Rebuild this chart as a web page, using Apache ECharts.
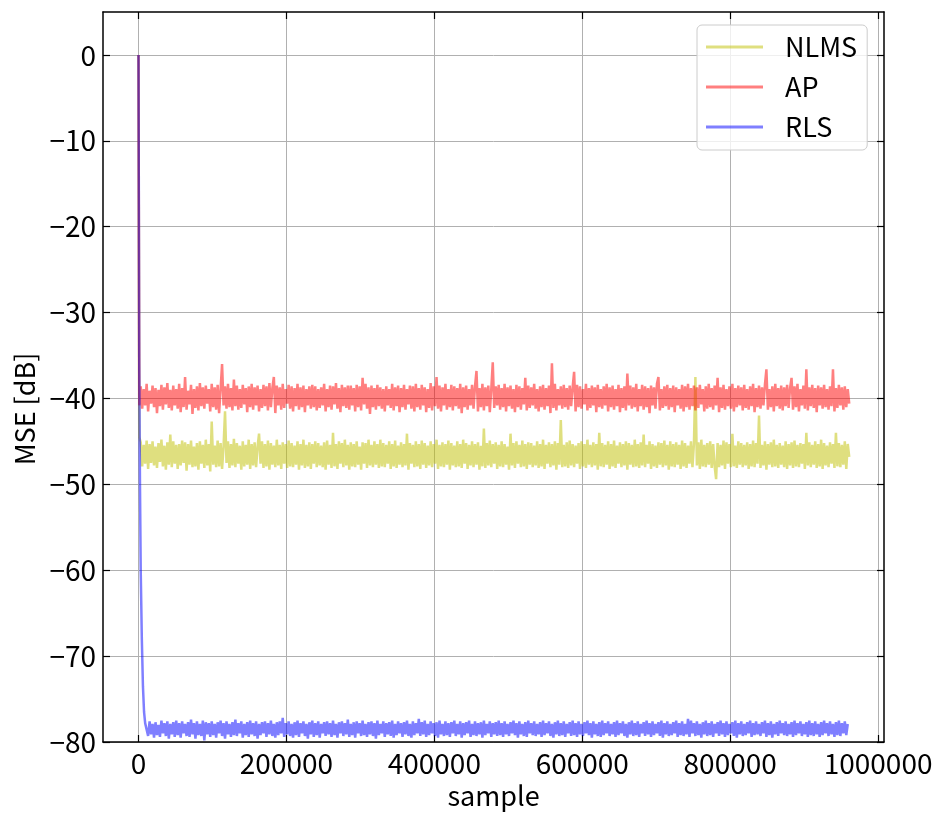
<!DOCTYPE html>
<html>
<head>
<meta charset="utf-8">
<script src="https://cdn.jsdelivr.net/npm/echarts@6/dist/echarts.min.js"></script>
<style>html,body{margin:0;padding:0;background:#fff}#c{width:944px;height:814px}</style>
</head>
<body>
<div id="c"></div>
<script>
// ---- data ----
const seriesNames = ['NLMS', 'AP', 'RLS'];
const xTicks = [0, 200000, 400000, 600000, 800000, 1000000];
const yTicks = [-80, -70, -60, -50, -40, -30, -20, -10, 0];
const STEP = 2000;

// initial transients [sample, dB]
const nlmsHead = [[0, 0], [1000, -44.5]];
const apHead = [[0, 0], [1000, -40.8]];
const rlsHead = [[0, 0], [1000, -36], [2000, -50], [3000, -60], [4500, -68], [6000, -73.5], [7500, -76.5], [9000, -77.8]];

// steady-state values, one every STEP samples
const nlmsStart = 3000;
const nlmsTail = [
-45.1,-47.9,-45.4,-47.6,-44.9,-48.2,-45.3,-47.5,-45.0,-47.8,-45.6,-48.1,-45.2,-47.4,-44.8,-47.9,-45.5,-48.3,-45.1,-47.7,-44.2,-48.0,-45.0,-47.6,
-45.4,-48.2,-45.3,-47.8,-44.9,-47.5,-45.1,-48.4,-45.3,-47.7,-44.9,-48.0,-45.6,-47.9,-45.2,-48.3,-45.0,-47.6,-45.4,-48.1,-44.8,-47.8,-45.3,-48.5,
-42.7,-47.7,-45.5,-48.0,-44.9,-47.9,-45.2,-48.2,-45.6,-41.5,-47.5,-45.0,-48.1,-45.3,-47.8,-44.7,-48.0,-45.2,-47.6,-45.5,-48.3,-45.0,-47.9,-45.4,
-47.7,-44.8,-48.2,-45.3,-47.8,-45.1,-48.0,-45.6,-44.1,-47.6,-45.0,-48.1,-45.3,-47.9,-44.9,-48.3,-45.2,-47.7,-45.5,-48.0,-44.8,-47.8,-45.4,-48.2,
-45.1,-47.6,-45.3,-48.1,-44.9,-47.9,-45.2,-48.0,-45.5,-47.7,-45.0,-48.3,-45.3,-47.8,-44.8,-48.1,-45.4,-47.9,-45.1,-48.2,-45.3,-47.6,-45.0,-48.0,
-45.2,-47.8,-45.5,-48.0,-45.1,-48.3,-44.9,-47.7,-45.4,-48.1,-44.0,-47.9,-45.3,-48.2,-45.0,-47.6,-45.2,-48.0,-44.8,-47.8,-45.4,-48.3,-45.1,-47.9,
-45.3,-48.0,-45.0,-47.7,-45.6,-48.3,-45.1,-47.6,-45.2,-48.1,-44.8,-47.8,-45.4,-48.0,-45.0,-47.7,-45.3,-48.1,-44.8,-47.9,-45.2,-48.0,-45.4,-47.6,
-45.0,-48.2,-45.3,-47.9,-44.9,-48.1,-45.5,-47.7,-45.1,-48.0,-45.3,-47.8,-44.1,-48.3,-45.2,-47.6,-45.4,-48.0,-45.0,-47.9,-45.3,-48.2,-44.9,-47.7,
-45.2,-48.1,-45.5,-47.8,-45.0,-48.0,-45.3,-47.6,-44.8,-48.2,-45.4,-47.9,-45.1,-48.0,-45.3,-47.7,-44.9,-48.3,-45.2,-47.8,-45.5,-48.0,-45.0,-47.9,
-45.3,-48.1,-44.8,-47.6,-45.2,-48.2,-45.4,-47.8,-45.0,-48.0,-45.3,-47.7,-45.1,-48.3,-45.5,-47.9,-43.5,-48.1,-45.2,-47.8,-44.9,-48.0,-45.3,-47.6,
-45.1,-48.2,-45.4,-47.9,-45.0,-48.0,-45.3,-47.7,-45.6,-48.3,-44.1,-47.8,-45.2,-48.1,-45.0,-47.6,-45.4,-48.0,-44.9,-47.9,-45.3,-48.2,-45.1,-47.7,
-45.2,-48.0,-45.5,-47.8,-45.0,-48.1,-45.3,-47.9,-44.8,-48.2,-45.4,-47.6,-45.1,-48.0,-45.3,-47.8,-45.0,-48.3,-45.2,-47.7,-42.5,-48.0,-45.4,-47.9,
-45.1,-48.1,-44.9,-47.8,-45.3,-48.0,-45.5,-47.6,-45.2,-48.2,-45.0,-47.9,-45.3,-48.1,-44.8,-47.7,-45.4,-48.0,-45.1,-47.8,-45.3,-48.3,-44.0,-47.9,
-45.2,-48.0,-45.4,-47.7,-45.0,-48.2,-45.3,-47.9,-44.9,-48.1,-45.5,-47.6,-45.1,-48.0,-45.3,-47.8,-45.0,-48.3,-45.2,-47.7,-45.4,-48.0,-44.8,-47.9,
-45.3,-48.1,-45.1,-47.8,-44.2,-48.0,-45.4,-47.6,-45.0,-48.2,-45.3,-47.9,-45.5,-48.1,-45.1,-47.7,-45.2,-48.0,-44.9,-47.8,-45.4,-48.3,-45.0,-47.9,
-45.3,-48.0,-45.1,-47.7,-45.4,-48.2,-44.9,-47.9,-45.2,-48.1,-45.5,-47.6,-45.0,-48.0,-45.3,-37.5,-47.8,-45.1,-48.2,-44.8,-47.9,-45.4,-48.0,-45.2,
-47.7,-45.0,-48.1,-45.3,-47.9,-49.4,-45.2,-48.0,-45.4,-47.8,-44.9,-48.2,-45.1,-47.6,-45.3,-48.0,-44.1,-47.9,-45.5,-48.1,-45.0,-47.7,-45.2,-48.0,
-45.4,-47.8,-45.1,-48.2,-45.3,-47.9,-44.9,-48.0,-45.2,-47.6,-42.0,-48.1,-45.4,-47.8,-45.0,-48.3,-45.3,-47.7,-45.1,-48.0,-44.8,-47.9,-45.4,-48.1,
-45.2,-47.7,-45.5,-48.0,-45.0,-48.2,-45.3,-47.8,-45.1,-48.1,-44.9,-47.9,-45.4,-48.0,-45.2,-47.6,-45.3,-48.2,-44.0,-47.8,-45.1,-48.0,-45.4,-47.7,
-45.0,-48.1,-45.3,-47.9,-44.8,-48.2,-45.2,-47.8,-45.5,-48.0,-45.1,-47.6,-45.3,-48.1,-44.0,-47.9,-45.2,-48.0,-45.4,-47.7,-45.0,-48.2,-45.3,-46.8
];
const apStart = 3000;
const apTail = [
-38.6,-41.2,-38.9,-40.8,-38.3,-41.5,-39.1,-40.6,-38.5,-41.0,-38.8,-41.7,-39.0,-40.9,-38.4,-41.3,-38.7,-40.7,-38.2,-41.1,-39.0,-41.4,-38.5,-40.8,
-38.9,-41.2,-38.3,-41.6,-38.8,-41.0,-37.5,-41.3,-39.1,-40.7,-38.4,-41.8,-38.9,-41.1,-38.6,-41.4,-38.2,-40.9,-38.7,-41.2,-38.5,-40.6,-38.9,-41.5,
-38.3,-41.0,-38.7,-41.3,-38.4,-41.7,-38.9,-36.0,-40.8,-38.6,-41.2,-38.3,-41.0,-38.8,-41.4,-37.8,-40.9,-38.5,-41.3,-38.9,-41.1,-38.4,-40.7,-38.8,
-41.6,-38.6,-41.0,-38.3,-41.3,-38.7,-40.8,-38.5,-41.5,-38.9,-41.1,-38.4,-40.9,-38.6,-41.4,-38.2,-41.0,-38.8,-37.5,-41.7,-38.5,-40.8,-38.7,-41.3,
-38.3,-41.1,-38.9,-40.6,-38.4,-41.2,-38.6,-41.5,-38.8,-40.9,-38.3,-41.3,-38.7,-41.0,-38.5,-41.6,-38.9,-40.8,-38.6,-41.2,-38.4,-41.0,-38.6,-41.4,
-38.9,-41.1,-38.7,-40.8,-38.3,-41.5,-38.9,-41.0,-38.5,-41.3,-38.6,-40.7,-38.2,-41.2,-38.8,-41.6,-38.4,-40.9,-38.7,-41.1,-38.5,-41.3,-38.5,-40.8,
-38.8,-41.5,-38.4,-41.0,-38.6,-41.4,-37.6,-40.7,-38.3,-41.2,-38.7,-41.8,-38.5,-41.0,-38.8,-41.3,-38.4,-40.9,-38.7,-41.2,-38.9,-41.5,-38.6,-40.8,
-38.9,-41.1,-38.3,-41.4,-38.7,-40.9,-38.5,-41.6,-38.8,-41.0,-38.4,-41.3,-38.9,-40.7,-38.5,-41.2,-38.6,-41.5,-38.3,-41.0,-38.8,-41.3,-38.4,-40.8,
-38.7,-41.6,-38.9,-41.1,-38.2,-41.4,-38.6,-40.9,-37.5,-41.2,-38.5,-41.5,-38.7,-40.8,-38.3,-41.3,-38.9,-41.0,-38.4,-41.4,-38.6,-40.9,-38.8,-41.2,
-38.3,-41.7,-38.7,-41.0,-38.5,-41.3,-38.9,-40.8,-38.4,-41.2,-38.6,-36.8,-41.5,-38.8,-41.0,-38.3,-41.4,-38.7,-40.9,-38.5,-41.6,-38.9,-35.8,-41.1,
-38.6,-40.8,-38.4,-41.3,-38.8,-41.0,-38.3,-41.5,-38.7,-40.9,-38.5,-41.2,-38.9,-41.6,-38.4,-41.0,-38.6,-41.3,-38.8,-40.7,-37.6,-41.4,-38.5,-41.1,
-38.7,-40.8,-38.3,-41.2,-38.9,-41.5,-38.6,-41.0,-38.4,-41.3,-38.8,-40.9,-38.5,-41.7,-35.9,-41.1,-38.3,-41.4,-38.9,-40.8,-38.6,-41.2,-38.4,-41.0,
-38.8,-41.3,-38.5,-40.9,-38.7,-36.9,-41.5,-38.4,-41.0,-38.6,-41.2,-38.9,-40.7,-38.3,-41.4,-38.8,-41.1,-38.5,-40.8,-38.7,-41.6,-38.4,-41.0,-38.9,
-41.2,-38.6,-40.8,-38.3,-41.5,-38.7,-41.0,-38.5,-41.3,-38.9,-40.9,-38.4,-41.6,-38.8,-41.1,-38.6,-41.4,-37.1,-40.8,-38.5,-41.2,-38.7,-41.0,-38.3,
-41.5,-38.9,-40.9,-38.4,-41.3,-38.6,-41.0,-38.8,-41.7,-38.5,-40.8,-38.7,-41.2,-38.3,-37.5,-41.4,-38.9,-41.1,-38.6,-40.9,-38.4,-41.3,-38.8,-41.0,
-38.5,-41.6,-38.7,-40.8,-38.9,-41.2,-38.4,-41.5,-38.6,-41.0,-38.3,-41.3,-38.8,-40.9,-38.5,-41.4,-38.7,-41.1,-38.4,-40.7,-38.9,-41.5,-38.6,-41.2,
-38.3,-41.0,-38.8,-41.3,-38.5,-40.8,-37.6,-41.6,-38.7,-41.1,-38.4,-41.3,-38.9,-40.9,-38.6,-41.2,-38.3,-41.5,-38.8,-41.0,-38.5,-40.8,-38.7,-41.4,
-38.4,-41.1,-38.9,-41.3,-38.6,-40.9,-38.3,-41.6,-38.8,-41.0,-38.5,-41.2,-38.7,-40.8,-38.4,-36.6,-41.3,-38.9,-41.0,-38.6,-41.5,-38.3,-40.9,-38.8,
-41.2,-38.5,-41.4,-38.7,-40.9,-38.4,-41.1,-38.8,-37.6,-41.3,-38.6,-41.0,-38.3,-41.5,-38.9,-40.8,-38.5,-41.2,-36.6,-41.4,-38.7,-40.9,-38.4,-41.1,
-38.8,-41.6,-38.5,-40.8,-38.7,-41.2,-38.4,-41.0,-38.9,-41.3,-38.6,-40.9,-36.6,-41.5,-38.8,-41.1,-38.4,-40.8,-38.7,-41.3,-38.6,-41.0,-38.9,-40.6
];
const rlsStart = 11000;
const rlsTail = [
-77.8,-79.3,-77.6,-79.1,-77.9,-79.5,-77.7,-79.2,-78.0,-79.4,-77.5,-79.0,-77.8,-79.3,-77.6,-79.6,-77.9,-79.1,-77.7,-79.4,-77.5,-79.2,-77.8,-79.5,
-77.6,-79.0,-77.9,-79.3,-77.7,-79.4,-77.4,-79.1,-77.8,-79.6,-77.6,-79.2,-77.9,-79.3,-77.5,-79.8,-77.7,-79.1,-77.8,-79.4,-77.6,-79.2,-77.9,-79.5,
-77.7,-79.0,-77.5,-79.3,-77.8,-79.6,-77.6,-79.1,-77.9,-79.4,-77.7,-79.2,-77.4,-79.3,-77.8,-79.0,-77.6,-79.5,-77.9,-79.2,-77.7,-79.4,-77.5,-79.1,
-77.8,-79.3,-77.6,-79.6,-77.9,-79.2,-77.7,-79.0,-77.6,-79.4,-77.8,-79.1,-77.5,-79.3,-77.9,-79.5,-77.7,-79.2,-77.6,-79.0,-77.2,-79.4,-77.8,-79.1,
-77.6,-79.3,-77.9,-79.5,-77.7,-79.2,-77.5,-79.4,-77.8,-79.0,-77.6,-79.3,-77.9,-79.6,-77.7,-79.1,-77.5,-79.4,-77.8,-79.2,-77.6,-79.5,-77.9,-79.0,
-77.7,-79.3,-77.6,-79.1,-77.8,-79.4,-77.5,-79.2,-77.9,-79.5,-77.7,-79.0,-77.6,-79.3,-77.8,-79.1,-77.4,-79.4,-77.9,-79.2,-77.7,-79.5,-77.6,-79.0,
-77.8,-79.3,-77.5,-79.2,-77.9,-79.4,-77.7,-79.1,-77.6,-79.3,-77.8,-79.6,-77.5,-79.2,-77.9,-79.0,-77.6,-79.4,-77.8,-79.1,-77.7,-79.3,-77.5,-79.5,
-77.9,-79.2,-77.6,-79.0,-77.8,-79.4,-77.7,-79.1,-77.5,-79.3,-77.9,-79.5,-77.6,-79.2,-77.8,-79.0,-77.3,-79.3,-77.7,-79.1,-77.5,-79.4,-77.9,-79.2,
-77.6,-79.0,-77.8,-79.3,-77.7,-79.5,-77.5,-79.1,-77.9,-79.3,-77.6,-79.2,-77.8,-79.4,-77.7,-79.0,-77.5,-79.3,-77.9,-79.1,-77.6,-79.5,-77.8,-79.2,
-77.7,-79.0,-77.5,-79.4,-77.9,-79.2,-77.6,-79.3,-77.8,-79.1,-77.7,-79.5,-77.5,-79.2,-77.9,-79.0,-77.6,-79.4,-77.8,-79.1,-77.7,-79.3,-77.5,-79.2,
-77.8,-79.4,-77.6,-79.1,-77.9,-79.3,-77.7,-79.0,-77.5,-79.2,-77.8,-79.5,-77.6,-79.1,-77.9,-79.3,-77.7,-79.4,-77.5,-79.0,-77.8,-79.2,-77.6,-79.3,
-77.9,-79.1,-77.7,-79.4,-77.5,-79.2,-77.8,-79.0,-77.6,-79.3,-77.9,-79.5,-77.7,-79.1,-77.5,-79.3,-77.8,-79.2,-77.6,-79.4,-77.9,-79.0,-77.7,-79.3,
-77.5,-79.2,-77.8,-79.4,-77.6,-79.1,-77.9,-79.3,-77.7,-79.0,-77.5,-79.2,-77.8,-79.5,-77.6,-79.1,-77.9,-79.3,-77.7,-79.4,-77.5,-79.2,-77.8,-79.0,
-77.6,-79.3,-77.9,-79.1,-77.7,-79.4,-77.5,-79.2,-77.8,-79.0,-77.6,-79.3,-77.9,-79.5,-77.7,-79.1,-77.5,-79.3,-77.8,-79.2,-77.6,-79.4,-77.9,-79.0,
-77.7,-79.3,-77.5,-79.1,-77.8,-79.4,-77.6,-79.2,-77.9,-79.0,-77.7,-79.3,-77.5,-79.5,-77.8,-79.1,-77.6,-79.3,-77.9,-79.2,-77.7,-79.0,-77.5,-79.4,
-77.8,-79.2,-77.6,-79.3,-77.9,-79.1,-77.3,-79.4,-77.5,-79.0,-77.8,-79.3,-77.6,-79.2,-77.9,-79.5,-77.7,-79.1,-77.5,-79.3,-77.8,-79.2,-77.6,-79.4,
-77.9,-79.0,-77.7,-79.3,-77.5,-79.1,-77.8,-79.4,-77.6,-79.2,-77.9,-79.0,-77.7,-79.3,-77.5,-79.5,-77.8,-79.1,-77.6,-79.3,-77.9,-79.2,-77.7,-79.0,
-77.5,-79.4,-77.8,-79.2,-77.6,-79.1,-77.9,-79.3,-77.7,-79.0,-77.5,-79.4,-77.8,-79.2,-77.6,-79.5,-77.9,-79.1,-77.7,-79.3,-77.5,-79.0,-77.8,-79.2,
-77.6,-79.3,-77.9,-79.1,-77.7,-79.4,-77.5,-79.2,-77.8,-79.0,-77.6,-79.3,-77.9,-79.1,-77.7,-79.4,-77.5,-79.2,-77.8,-79.3,-77.6,-79.1,-77.9,-79.4,
-77.7,-79.2,-77.5,-79.0,-77.8,-79.3,-77.6,-79.1,-77.9,-79.4,-77.7,-79.2,-77.5,-79.3,-77.8,-79.0,-77.6,-79.2,-77.9
];

// ---- build ----
function build(head, start, tail) {
  const out = head.map(p => [p[0], p[1]]);
  tail.forEach((v, i) => out.push([start + i * STEP, v]));
  return out;
}
const colors = ['rgba(191,191,0,0.5)', 'rgba(255,0,0,0.5)', 'rgba(0,0,255,0.5)'];
const datasets = [build(nlmsHead, nlmsStart, nlmsTail), build(apHead, apStart, apTail), build(rlsHead, rlsStart, rlsTail)];

const FONT = 'Noto Sans CJK JP';
const fmt = v => (v < 0 ? '\u2212' + Math.abs(v) : String(v));
const tickStyle = { inside: true, length: 7, lineStyle: { color: '#000', width: 1.2 } };
const axisLineStyle = { show: true, onZero: false, lineStyle: { color: '#000', width: 1.5 } };
const gridLine = { show: true, lineStyle: { color: '#b0b0b0', width: 1 } };

const chart = echarts.init(document.getElementById('c'), null, { renderer: 'canvas' });
chart.setOption({
  animation: false,
  backgroundColor: '#fff',
  grid: { left: 103, top: 12, width: 781, height: 736, containLabel: false },
  legend: {
    data: seriesNames.map(n => ({ name: n, icon: 'rect' })),
    orient: 'vertical',
    left: 697, top: 25,
    itemWidth: 57, itemHeight: 3, itemGap: 10,
    padding: [7, 10, 8, 9],
    borderColor: '#cccccc', borderWidth: 1, borderRadius: 5,
    backgroundColor: 'rgba(255,255,255,0.8)',
    textStyle: { fontFamily: FONT, fontSize: 27, color: '#000', lineHeight: 30, padding: [0, 0, 0, 17] }
  },
  xAxis: [{
    type: 'value', min: -48000, max: 1008000, position: 'bottom',
    name: 'sample', nameLocation: 'middle', nameGap: 40,
    nameTextStyle: { fontFamily: FONT, fontSize: 27, color: '#000', verticalAlign: 'top' },
    axisLine: axisLineStyle,
    axisTick: Object.assign({ customValues: xTicks }, tickStyle),
    axisLabel: { customValues: xTicks, formatter: fmt, fontFamily: FONT, fontSize: 28, color: '#000', margin: 7 },
    splitLine: gridLine
  }, {
    type: 'value', min: -48000, max: 1008000, position: 'top',
    axisLine: axisLineStyle,
    axisTick: Object.assign({ customValues: xTicks }, tickStyle),
    axisLabel: { show: false, customValues: xTicks },
    splitLine: { show: false }
  }],
  yAxis: [{
    type: 'value', min: -80, max: 5, position: 'left',
    name: 'MSE [dB]', nameLocation: 'middle', nameGap: 64,
    nameTextStyle: { fontFamily: FONT, fontSize: 27, color: '#000', padding: [0, 64, 0, 0] },
    axisLine: axisLineStyle,
    axisTick: Object.assign({ customValues: yTicks }, tickStyle),
    axisLabel: { customValues: yTicks, formatter: fmt, fontFamily: FONT, fontSize: 28, color: '#000', margin: 7 },
    splitLine: gridLine
  }, {
    type: 'value', min: -80, max: 5, position: 'right',
    axisLine: axisLineStyle,
    axisTick: Object.assign({ customValues: yTicks }, tickStyle),
    axisLabel: { show: false, customValues: yTicks },
    splitLine: { show: false }
  }],
  series: seriesNames.map((n, k) => ({
    name: n, type: 'line', data: datasets[k],
    xAxisIndex: 0, yAxisIndex: 0,
    showSymbol: false, symbol: 'none', sampling: null,
    color: colors[k],
    lineStyle: { color: colors[k], width: 2.5 },
    z: 2
  }))
});
</script>
</body>
</html>
